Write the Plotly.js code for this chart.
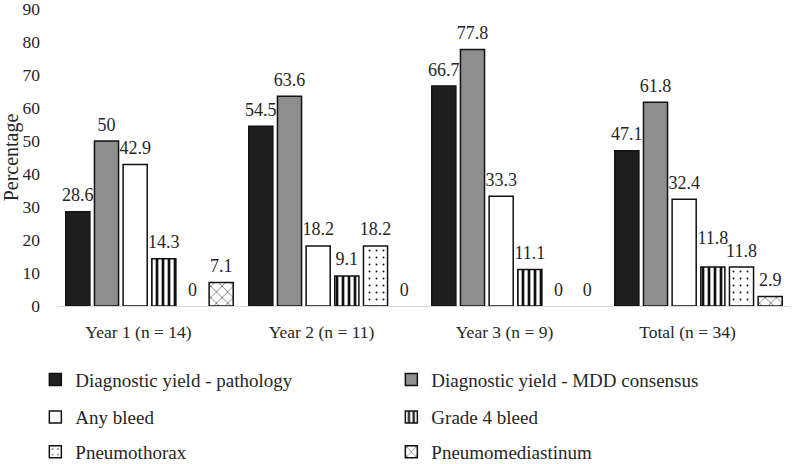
<!DOCTYPE html>
<html><head><meta charset="utf-8">
<script src="https://cdn.plot.ly/plotly-3.0.1.min.js"></script>
<style>body{margin:0;background:#fff}#c{width:796px;height:464px}</style>
</head><body><div id="c"></div>
<script>
const categories = ['Year 1 (n = 14)', 'Year 2 (n = 11)', 'Year 3 (n = 9)', 'Total (n = 34)'];
const seriesNames = ['Diagnostic yield - pathology', 'Diagnostic yield - MDD consensus', 'Any bleed', 'Grade 4 bleed', 'Pneumothorax', 'Pneumomediastinum'];
const pathology = [28.6, 54.5, 66.7, 47.1];
const mddConsensus = [50, 63.6, 77.8, 61.8];
const anyBleed = [42.9, 18.2, 33.3, 32.4];
const grade4Bleed = [14.3, 9.1, 11.1, 11.8];
const pneumothorax = [0, 18.2, 0, 11.8];
const pneumomediastinum = [7.1, 0, 0, 2.9];
const yTicks = [0, 10, 20, 30, 40, 50, 60, 70, 80, 90];

const values = [pathology, mddConsensus, anyBleed, grade4Bleed, pneumothorax, pneumomediastinum];
const fills = ['#1f1f1f', '#8e8e8e', '#ffffff', '#ffffff', '#ffffff', '#ffffff'];
const patterns = ['', '', '', '|', '.', 'x'];
const patSize = [6, 6, 6, 6, 7, 8];
const patSolid = [0.3, 0.3, 0.3, 0.45, 0.06, 0.12];
const legendIds = ['legend', 'legend', 'legend2', 'legend2', 'legend3', 'legend3'];
// label lift (invisible marker size) per series/category; grade 4 total label is raised as in the original
const labelLift = [[8, 8, 8, 8], [8, 8, 8, 8], [8, 8, 8, 8], [8, 8, 8, 28], [8, 8, 8, 8], [8, 8, 8, 8]];
const font = 'Liberation Serif, Times New Roman, serif';
const txt = '#262626';

const bars = values.map((v, i) => ({
  type: 'bar', x: categories, y: v.map(d => d === 0 ? null : d), name: seriesNames[i],
  legend: legendIds[i],
  marker: {
    color: fills[i],
    line: {color: '#111', width: 1.5},
    pattern: {shape: patterns[i], fgcolor: '#111', bgcolor: '#fff', size: patSize[i], solidity: patSolid[i]}
  },
  hoverinfo: 'skip'
}));

const labels = values.map((v, i) => ({
  type: 'scatter', mode: 'markers+text', x: categories, y: v,
  text: v.map(String), textposition: 'top center', cliponaxis: false,
  textfont: {family: font, size: 18, color: txt},
  marker: {size: labelLift[i], opacity: 0, color: '#fff'},
  showlegend: false, hoverinfo: 'skip'
}));

const legendBase = {orientation: 'h', xref: 'container', x: 0.0444, xanchor: 'left', yref: 'container', yanchor: 'middle', entrywidth: 311,
  font: {family: font, size: 19, color: txt}, bgcolor: 'rgba(0,0,0,0)', traceorder: 'normal'};

const layout = {
  width: 796, height: 464,
  margin: {l: 58, r: 6, t: 9, b: 158},
  paper_bgcolor: '#fff', plot_bgcolor: '#fff',
  barmode: 'group', bargap: 0.06, bargroupgap: 0.16,
  scattermode: 'group', scattergap: 0.06,
  font: {family: font, size: 17.5, color: txt},
  xaxis: {showline: true, linecolor: '#d9d9d9', linewidth: 1, ticks: '', ticklabelstandoff: 10, ticklabelshift: -11,
          tickfont: {family: font, size: 17.5, color: txt}},
  yaxis: {range: [0, 90.05], tickvals: yTicks, showgrid: false, zeroline: false, showline: false, ticks: '',
          ticklabelstandoff: 17, ticklabeloverflow: 'allow', tickfont: {family: font, size: 17.5, color: txt},
          title: {text: 'Percentage', font: {family: font, size: 20, color: txt}, standoff: 5}},
  legend: Object.assign({}, legendBase, {y: 0.182}),
  legend2: Object.assign({}, legendBase, {y: 0.101}),
  legend3: Object.assign({}, legendBase, {y: 0.026}),
  showlegend: true
};
Plotly.newPlot('c', bars.concat(labels), layout, {displayModeBar: false, staticPlot: true});
</script></body></html>
